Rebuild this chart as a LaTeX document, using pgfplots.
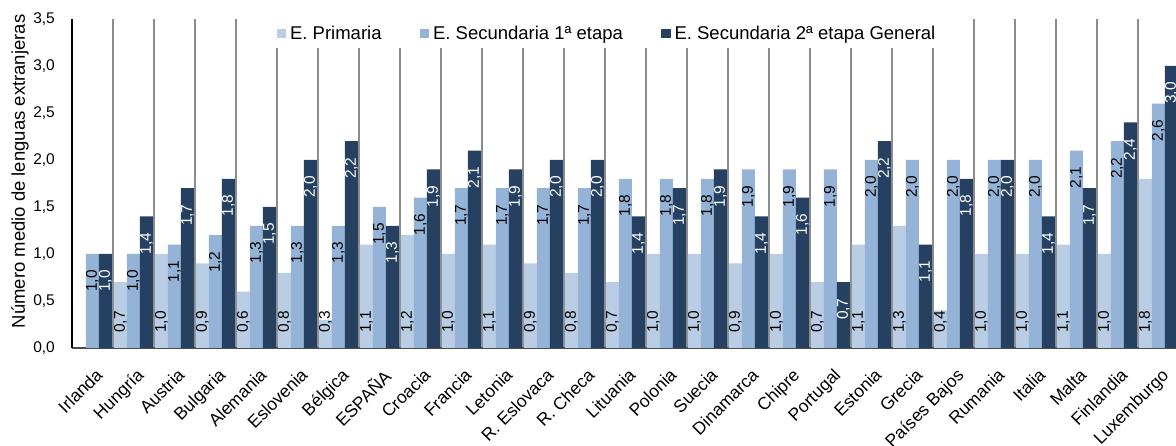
\documentclass[border=0pt]{standalone}
\usepackage{fontspec}
\setmainfont{Liberation Sans}
\usepackage{pgfplots}
\pgfplotsset{compat=1.18}
\usepackage{pgfplotstable}
\definecolor{cPri}{RGB}{185,205,229}
\definecolor{cSec}{RGB}{149,179,215}
\definecolor{cGen}{RGB}{37,64,97}
\definecolor{cGrid}{RGB}{140,140,140}

% E. Primaria (Irlanda: no data)
\pgfplotstableread{
x p
1 0.7
2 1.0
3 0.9
4 0.6
5 0.8
6 0.3
7 1.1
8 1.2
9 1.0
10 1.1
11 0.9
12 0.8
13 0.7
14 1.0
15 1.0
16 0.9
17 1.0
18 0.7
19 1.1
20 1.3
21 0.4
22 1.0
23 1.0
24 1.1
25 1.0
26 1.8
}\primaria

% E. Secundaria 1a etapa
\pgfplotstableread{
x s
0 1.0
1 1.0
2 1.1
3 1.2
4 1.3
5 1.3
6 1.3
7 1.5
8 1.6
9 1.7
10 1.7
11 1.7
12 1.7
13 1.8
14 1.8
15 1.8
16 1.9
17 1.9
18 1.9
19 2.0
20 2.0
21 2.0
22 2.0
23 2.0
24 2.1
25 2.2
26 2.6
}\secuno

% E. Secundaria 2a etapa General
\pgfplotstableread{
x g
0 1.0
1 1.4
2 1.7
3 1.8
4 1.5
5 2.0
6 2.2
7 1.3
8 1.9
9 2.1
10 1.9
11 2.0
12 2.0
13 1.4
14 1.7
15 1.9
16 1.4
17 1.6
18 0.7
19 2.2
20 1.1
21 1.8
22 2.0
23 1.4
24 1.7
25 2.4
26 3.0
}\secdos

\newcommand{\lblfont}{\fontsize{15.5}{18}\selectfont}

\begin{document}
\begin{tikzpicture}
\begin{axis}[
  name=ax,
  scale only axis, width=1107pt, height=329pt,
  xmin=-0.5, xmax=26.5, ymin=0, ymax=3.5,
  enlarge x limits=false, enlarge y limits=false,
  ytick={0,0.5,...,3.5},
  xtick={0,...,26},
  xticklabels={Irlanda,Hungría,Austria,Bulgaria,Alemania,Eslovenia,Bélgica,ESPAÑA,Croacia,Francia,Letonia,R. Eslovaca,R. Checa,Lituania,Polonia,Suecia,Dinamarca,Chipre,Portugal,Estonia,Grecia,Países Bajos,Rumania,Italia,Malta,Finlandia,Luxemburgo},
  minor xtick={0.5,1.5,...,25.5},
  xminorgrids,
  minor grid style={cGrid, line width=2pt},
  major tick length=0pt, minor tick length=0pt,
  tick style={draw=none},
  axis x line*=bottom, axis y line*=left,
  x axis line style={black!70, line width=1.5pt, -},
  y axis line style={black, line width=1.2pt, -},
  /pgf/number format/use comma,
  /pgf/number format/fixed,
  /pgf/number format/fixed zerofill,
  /pgf/number format/precision=1,
  /pgf/number format/assume math mode=true,
  yticklabel style={font=\lblfont, inner sep=0pt, xshift=-17pt},
  xticklabel style={font=\fontsize{17.5}{20}\selectfont, rotate=45, anchor=north east, inner sep=1pt, yshift=-14pt, xshift=-11pt},
  ylabel={Número medio de lenguas extranjeras},
  every axis y label/.style={at={(axis description cs:-0.047,0.5365)}, rotate=90, anchor=center, font=\fontsize{18.5}{21}\selectfont},
  legend style={at={(axis description cs:0.4833,1)}, anchor=north, draw=none, fill=white,
    font=\fontsize{18.5}{21}\selectfont, inner xsep=7pt, inner ysep=5pt,
    nodes={inner sep=2pt},
    /tikz/every even column/.append style={column sep=36pt},
    /tikz/every odd column/.append style={column sep=2pt}},
  legend columns=3,
]
\addplot[ybar, bar width=13pt, bar shift=-13pt, fill=cPri, draw=none,
  legend image code/.code={\fill[cPri] (0pt,-4.5pt) rectangle (9.5pt,5pt);}]
  table[x=x, y=p]{\primaria};
\addlegendentry{E. Primaria}
\addplot[ybar, bar width=13pt, bar shift=0pt, fill=cSec, draw=none,
  legend image code/.code={\fill[cSec] (0pt,-4.5pt) rectangle (9.5pt,5pt);},
  nodes near coords,
  every node near coord/.append style={yshift=-16pt, rotate=90, anchor=east, inner sep=0pt, font=\lblfont, text=black}]
  table[x=x, y=s]{\secuno};
\addlegendentry{E. Secundaria 1ª etapa}
\addplot[ybar, bar width=13pt, bar shift=13pt, fill=cGen, draw=none,
  legend image code/.code={\fill[cGen] (0pt,-4.5pt) rectangle (9.5pt,5pt);},
  nodes near coords,
  every node near coord/.append style={xshift=13pt, yshift=-16pt, rotate=90, anchor=east, inner sep=0pt, font=\lblfont, text=white}]
  table[x=x, y=g]{\secdos};
\addlegendentry{E. Secundaria 2ª etapa General}
% labels of E. Primaria, set near the base of the bars
\addplot[ybar, bar width=13pt, bar shift=-13pt, fill=none, draw=none, forget plot,
  point meta=explicit, nodes near coords,
  every node near coord/.append style={xshift=-13pt, yshift=15pt, rotate=90, anchor=west, inner sep=0pt, font=\lblfont, text=black}]
  table[x=x, y expr=0, meta=p]{\primaria};
\end{axis}
\pgfresetboundingbox
\path[use as bounding box] ([xshift=-72pt,yshift=-98pt]ax.south west) rectangle ([xshift=1104pt,yshift=348pt]ax.south west);
\end{tikzpicture}
\end{document}
